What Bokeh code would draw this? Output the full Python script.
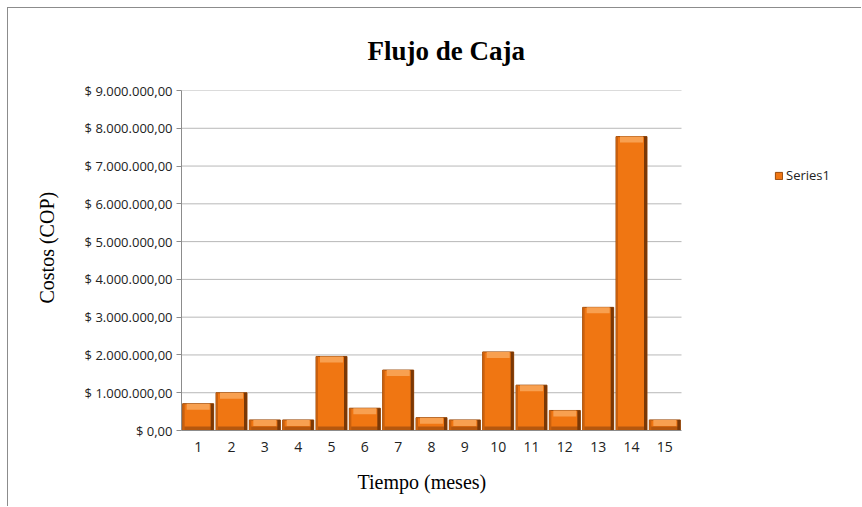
from bokeh.plotting import figure
from bokeh.models import FixedTicker, Legend, LegendItem, ColumnDataSource, Range1d, Title
from bokeh.embed import file_html
from bokeh.resources import INLINE

# ---- data ----
months = [str(i) for i in range(1, 16)]
costs = [710000, 1000000, 280000, 280000, 1960000, 590000, 1600000, 340000,
         280000, 2080000, 1200000, 530000, 3260000, 7780000, 280000]
y_ticks = [0, 1000000, 2000000, 3000000, 4000000, 5000000, 6000000, 7000000, 8000000, 9000000]
y_tick_labels = ["$ 0,00", "$ 1.000.000,00", "$ 2.000.000,00", "$ 3.000.000,00",
                 "$ 4.000.000,00", "$ 5.000.000,00", "$ 6.000.000,00", "$ 7.000.000,00",
                 "$ 8.000.000,00", "$ 9.000.000,00"]
series_name = "Series1"
title_text = "Flujo de Caja"
x_label = "Tiempo (meses)"
y_label = "Costos (COP)"

# ---- layout constants ----
Y_MAX = 9000000
N = len(months)
PLOT_W, FRAME_W, FRAME_H = 500, 681, 340   # plot-area width, full frame width (incl. legend area)
x_pos = [float(m) for m in months]
X_START = 0.5
X_BAR_END = X_START + N
X_END = X_START + N * FRAME_W / PLOT_W
px_y = Y_MAX / FRAME_H
px_x = N / PLOT_W

p = figure(width=854, height=499, x_range=Range1d(X_START, X_END),
           y_range=Range1d(0, Y_MAX), output_backend="svg", toolbar_location=None,
           min_border_left=173, min_border_right=0, min_border_top=82,
           min_border_bottom=77)
p.margin = (8, 0, 0, 8)
p.styles = {"box-shadow": "-1px -1px 0 0 #8c8c8c"}

# horizontal gridlines limited to the plot area
p.segment(x0=X_START, x1=X_BAR_END, y0="y", y1="y",
          source=ColumnDataSource(dict(y=y_ticks[1:])), line_color="#b8b8b8", line_width=1)

BW = 0.93
src = ColumnDataSource(dict(x=x_pos, top=costs))
main = p.vbar(x="x", top="top", width=BW, source=src, fill_color="#F07612",
              line_color="#9a4a0a", line_width=1)

# bevel effect derived from the data
top_strip = dict(x=x_pos, top=costs, bottom=[v - 6 * px_y for v in costs])
p.vbar(x="x", top="top", bottom="bottom", width=BW - 8 * px_x, source=ColumnDataSource(top_strip),
       fill_color="#F8A050", line_color=None)
bot_strip = dict(x=x_pos, top=[4 * px_y] * N)
p.vbar(x="x", top="top", bottom=0, width=BW, source=ColumnDataSource(bot_strip),
       fill_color="#B5570E", line_color=None)
right_edge = dict(left=[x + BW / 2 - 3 * px_x for x in x_pos],
                  right=[x + BW / 2 for x in x_pos], top=costs)
p.quad(left="left", right="right", top="top", bottom=0,
       source=ColumnDataSource(right_edge), fill_color="#7A3806", line_color=None)
left_edge = dict(left=[x - BW / 2 for x in x_pos],
                 right=[x - BW / 2 + 2 * px_x for x in x_pos], top=costs)
p.quad(left="left", right="right", top="top", bottom=0,
       source=ColumnDataSource(left_edge), fill_color="#C9600E", line_color=None)

# title
p.title.text = title_text
p.title.align = "left"
p.title.offset = 186
p.title.standoff = 50
p.title.text_font = "Liberation Serif"
p.title.text_font_size = "27px"
p.title.text_font_style = "bold"
p.title.text_color = "#000000"

p.outline_line_color = None
p.xgrid.grid_line_color = None
p.ygrid.grid_line_color = None

p.yaxis.ticker = FixedTicker(ticks=y_ticks)
p.yaxis.major_label_overrides = {t: l for t, l in zip(y_ticks, y_tick_labels)}
p.xaxis.ticker = FixedTicker(ticks=x_pos)
p.xaxis.major_label_overrides = {x: m for x, m in zip(x_pos, months)}
p.xaxis.bounds = (X_START, X_BAR_END)
for ax in (p.xaxis, p.yaxis):
    ax.major_label_text_font = "Open Sans"
    ax.major_label_text_color = "#222222"
    ax.axis_line_color = "#8c8c8c"
    ax.minor_tick_line_color = None
p.yaxis.major_label_text_font_size = "13px"
p.xaxis.major_label_text_font_size = "14px"
p.yaxis.major_tick_out = 5
p.yaxis.major_tick_in = 0
p.yaxis.major_tick_line_color = "#8c8c8c"
p.yaxis.major_label_standoff = 4
p.xaxis.major_tick_line_color = None
p.xaxis.major_label_standoff = 5

# axis titles (as side titles so they can be placed like the reference)
p.add_layout(Title(text=x_label, align="left", offset=176, standoff=29,
                   text_font="Liberation Serif", text_font_size="20px",
                   text_font_style="normal", text_color="#000000"), "below")
p.add_layout(Title(text=y_label, align="left", offset=127, standoff=47,
                   text_font="Liberation Serif", text_font_size="20px",
                   text_font_style="normal", text_color="#000000"), "left")

legend = Legend(items=[LegendItem(label=series_name, renderers=[main])],
                location=(593, 246), border_line_color=None, background_fill_alpha=0,
                padding=0, margin=0, glyph_width=9, glyph_height=9, label_standoff=3,
                label_text_font="Open Sans", label_text_font_size="13px",
                label_text_color="#222222")
p.add_layout(legend, "center")

open("out.html", "w").write(file_html(p, INLINE))
